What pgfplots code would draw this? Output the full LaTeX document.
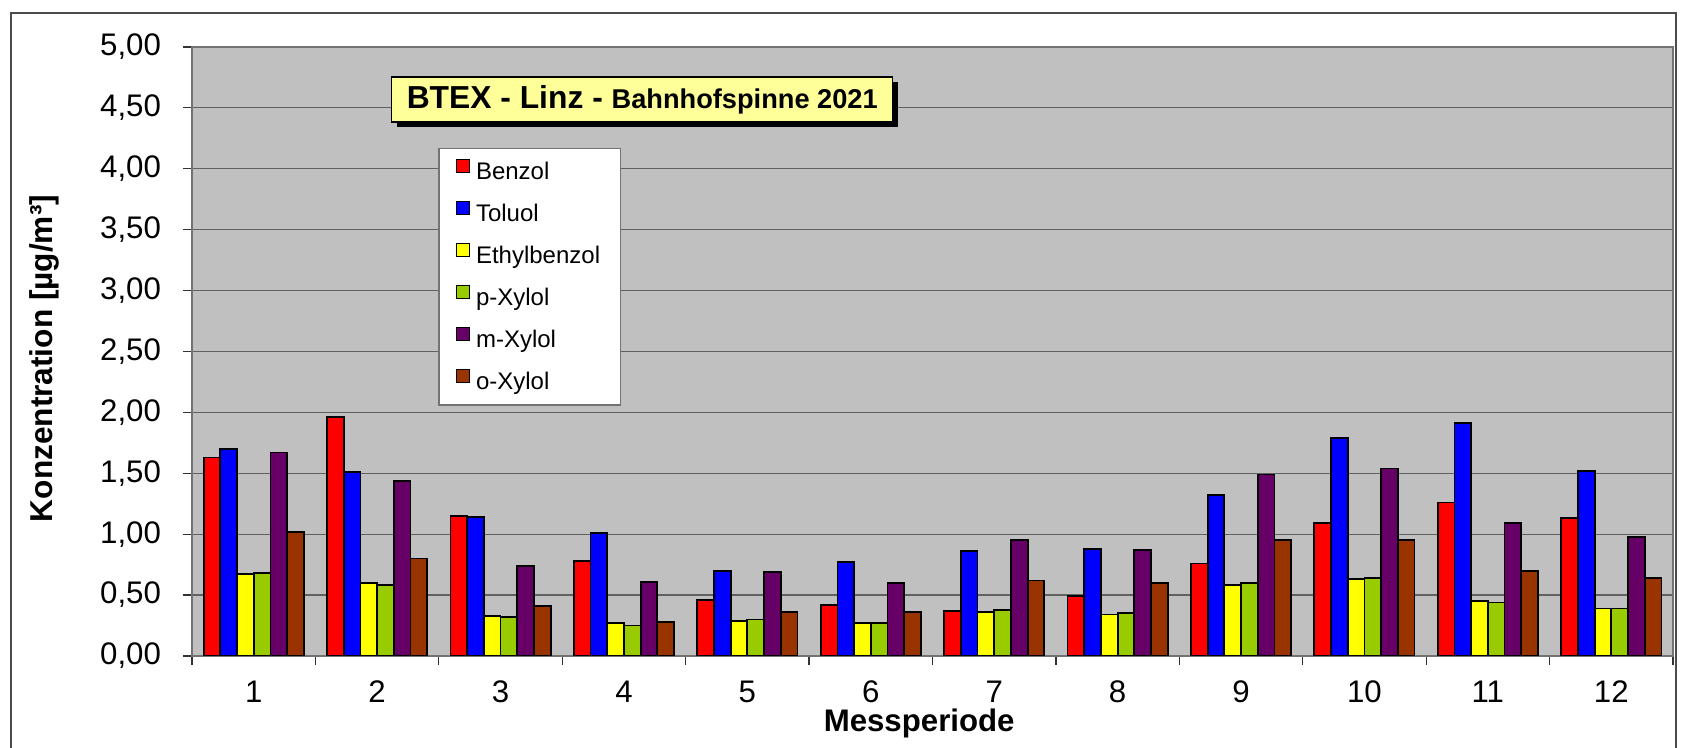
\documentclass[border=0pt]{standalone}
\usepackage{fontspec}
\setmainfont{Liberation Sans}
\usepackage{pgfplots}
\pgfplotsset{compat=1.18}
\usetikzlibrary{shadows}
\definecolor{cBenzol}{HTML}{FF0000}
\definecolor{cToluol}{HTML}{0000FF}
\definecolor{cEthyl}{HTML}{FFFF00}
\definecolor{cpX}{HTML}{99CC00}
\definecolor{cmX}{HTML}{660066}
\definecolor{coX}{HTML}{993300}
\definecolor{bgGray}{HTML}{C0C0C0}
\definecolor{titleYellow}{HTML}{FFFF99}
\begin{document}
\begin{tikzpicture}
\begin{axis}[
  at={(0,0)}, anchor=south west,
  scale only axis, width=740.5pt, height=304.5pt,
  xmin=0.5, xmax=12.5, ymin=0, ymax=5,
  axis background/.style={fill=bgGray},
  axis line style={draw=black!55, line width=0.9pt},
  ybar=0pt, bar width=8.35pt,
  ytick={0,0.5,...,5},
  xtick={0.5,1.5,...,12.5}, xticklabels={},
  extra x ticks={1,2,3,4,5,6,7,8,9,10,11,12},
  extra x tick labels={1,2,3,4,5,6,7,8,9,10,11,12},
  extra x tick style={major tick length=0pt},
  xtick pos=bottom, ytick pos=left,
  tick align=outside, major tick length=4.5pt,
  tick style={draw=black!80, line width=0.6pt},
  ymajorgrids, grid style={draw=black!62, line width=0.6pt},
  tick label style={font=\fontsize{15.6}{18}\selectfont},
  yticklabel style={xshift=-7.5pt, /pgf/number format/.cd, fixed, fixed zerofill, precision=2, use comma, assume math mode=true},
  xticklabel style={yshift=-9pt, /pgf/number format/assume math mode=true},
  every axis x label/.style={at={(axis description cs:0.491,-0.1243)}, anchor=base},
  every axis y label/.style={at={(axis description cs:-0.0995,0.4885)}, rotate=90, anchor=center},
  xlabel={\fontsize{15.6}{18}\selectfont\bfseries Messperiode},
  ylabel={\fontsize{15.8}{18}\selectfont\bfseries Konzentration [µg/m³]},
  legend cell align=left,
  legend image code/.code={\path (0pt,0pt); \draw[#1,draw=black,line width=0.6pt] (1.25pt,0.85pt) rectangle (7.75pt,7.35pt);},
  legend style={at={(0.1664,0.8342)}, anchor=north west, draw=black!55, line width=0.6pt, fill=white,
    font=\fontsize{12}{14}\selectfont, inner xsep=7pt, inner ysep=5pt, row sep=7.8pt,
    nodes={inner xsep=3pt, inner ysep=0pt, text height=8.6pt, text depth=2.5pt}},
  every axis plot/.append style={draw=black, line width=0.9pt},
]
\addplot[fill=cBenzol] coordinates {(1,1.63) (2,1.96) (3,1.15) (4,0.78) (5,0.46) (6,0.42) (7,0.37) (8,0.49) (9,0.76) (10,1.09) (11,1.26) (12,1.13)};
\addplot[fill=cToluol] coordinates {(1,1.70) (2,1.51) (3,1.14) (4,1.01) (5,0.70) (6,0.77) (7,0.86) (8,0.88) (9,1.32) (10,1.79) (11,1.91) (12,1.52)};
\addplot[fill=cEthyl] coordinates {(1,0.67) (2,0.60) (3,0.33) (4,0.27) (5,0.29) (6,0.27) (7,0.36) (8,0.34) (9,0.58) (10,0.63) (11,0.45) (12,0.39)};
\addplot[fill=cpX] coordinates {(1,0.68) (2,0.58) (3,0.32) (4,0.25) (5,0.30) (6,0.27) (7,0.38) (8,0.35) (9,0.60) (10,0.64) (11,0.44) (12,0.39)};
\addplot[fill=cmX] coordinates {(1,1.67) (2,1.44) (3,0.74) (4,0.61) (5,0.69) (6,0.60) (7,0.95) (8,0.87) (9,1.49) (10,1.54) (11,1.09) (12,0.98)};
\addplot[fill=coX] coordinates {(1,1.02) (2,0.80) (3,0.41) (4,0.28) (5,0.36) (6,0.36) (7,0.62) (8,0.60) (9,0.95) (10,0.95) (11,0.70) (12,0.64)};
\legend{Benzol,Toluol,Ethylbenzol,p-Xylol,m-Xylol,o-Xylol}
\node[fill=titleYellow, draw=black, line width=0.6pt, inner xsep=7.5pt, minimum height=22.5pt,
  drop shadow={shadow xshift=2.5pt, shadow yshift=-2.5pt, fill=black, opacity=1}]
  at (rel axis cs:0.3040,0.9138)
  {{\fontsize{15.9}{18}\selectfont\bfseries BTEX - Linz - }{\fontsize{13.6}{16}\selectfont\bfseries Bahnhofspinne 2021}};
\end{axis}
\draw[black!70, line width=0.8pt] (-90.5pt,-50pt) rectangle (742pt,321.5pt);
\pgfresetboundingbox
\path[use as bounding box] (-96pt,-46pt) rectangle (748.5pt,328pt);
\end{tikzpicture}
\end{document}
